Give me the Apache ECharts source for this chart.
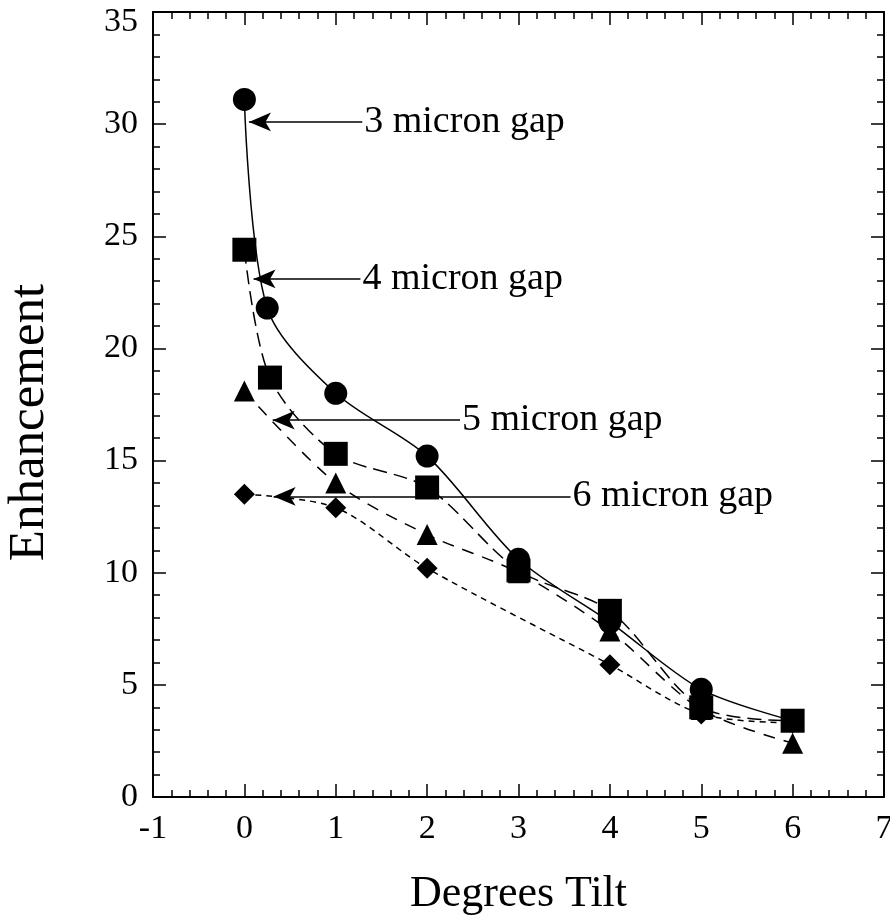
<!DOCTYPE html>
<html>
<head>
<meta charset="utf-8">
<script src="https://cdn.jsdelivr.net/npm/echarts@6/dist/echarts.min.js"></script>
<style>
  html, body { margin: 0; padding: 0; background: #fff; }
  #chart { width: 890px; height: 919px; }
</style>
</head>
<body>
<div id="chart"></div>
<script>
// 数据
var gap3X = [0, 0.25, 1, 2, 3, 4, 5, 6];
var gap3Y = [31.1, 21.8, 18.0, 15.2, 10.6, 7.8, 4.8, 3.4];
var gap4X = [0, 0.28, 1, 2, 3, 4, 5, 6];
var gap4Y = [24.4, 18.7, 15.3, 13.8, 10.1, 8.3, 4.0, 3.4];
var gap5X = [0, 1, 2, 3, 4, 5, 6];
var gap5Y = [18.1, 14.0, 11.7, 10.0, 7.4, 3.9, 2.4];
var gap6X = [0, 1, 2, 4, 5, 6];
var gap6Y = [13.5, 12.9, 10.2, 5.9, 3.7, 3.3];

// annotation arrows: label, arrow tip x, tail x, y
var noteText = ['3 micron gap', '4 micron gap', '5 micron gap', '6 micron gap'];
var noteTipX = [0.05, 0.1, 0.31, 0.32];
var noteTailX = [1.29, 1.27, 2.36, 3.57];
var noteY = [30.1, 23.1, 16.8, 13.4];

var FONT = '"Liberation Serif", "Times New Roman", serif';

function pairs(xs, ys) {
  return xs.map(function (x, i) { return [x, ys[i]]; });
}

const myChart = echarts.init(document.getElementById('chart'));

const notes = noteText.map(function (t, i) {
  return [
    { name: t, coord: [noteTipX[i], noteY[i]] },
    { coord: [noteTailX[i], noteY[i]] }
  ];
});

function axisCommon(show) {
  return {
    axisLine: { show: true, onZero: false, lineStyle: { color: '#000', width: 2 } },
    axisTick: { show: true, inside: true, length: 13, lineStyle: { color: '#000', width: 1.5 } },
    minorTick: { show: true, splitNumber: 5, length: 7, lineStyle: { color: '#000', width: 1.5 } },
    splitLine: { show: false },
    axisLabel: {
      show: show, color: '#000', fontSize: 34, fontFamily: FONT, margin: 15
    }
  };
}

var xBottom = Object.assign(axisCommon(true), {
  type: 'value', min: -1, max: 7, interval: 1, position: 'bottom',
  name: 'Degrees Tilt', nameLocation: 'middle', nameGap: 75,
  nameTextStyle: { color: '#000', fontSize: 44, fontFamily: FONT }
});
var xTop = Object.assign(axisCommon(false), {
  type: 'value', min: -1, max: 7, interval: 1, position: 'top'
});
var yLeft = Object.assign(axisCommon(true), {
  type: 'value', min: 0, max: 35, interval: 5, position: 'left',
  name: 'Enhancement', nameLocation: 'middle', nameGap: 98,
  nameTextStyle: { color: '#000', fontSize: 51, fontFamily: FONT, padding: [0, 36, 0, 0] }
});
// the top label sits a little below its tick in the original
yLeft.axisLabel.formatter = function (v) {
  return v === 35 ? '{top|35}' : String(v);
};
yLeft.axisLabel.rich = {
  top: { fontSize: 34, fontFamily: FONT, color: '#000', padding: [20, 0, 0, 0] }
};
var yRight = Object.assign(axisCommon(false), {
  type: 'value', min: 0, max: 35, interval: 5, position: 'right'
});

const option = {
  animation: false,
  backgroundColor: '#fff',
  grid: { left: 153, right: 6, top: 12, bottom: 122, containLabel: false, outerBoundsMode: 'none' },
  xAxis: [xBottom, xTop],
  yAxis: [yLeft, yRight],
  series: [
    {
      type: 'line', name: '3 micron', data: pairs(gap3X, gap3Y),
      smooth: 0.3, symbol: 'circle', symbolSize: 23,
      itemStyle: { color: '#000' },
      lineStyle: { color: '#000', width: 1.5, type: 'solid' },
      markLine: {
        silent: true,
        symbol: ['arrow', 'none'],
        symbolSize: [14, 22],
        lineStyle: { color: '#000', width: 1.5, type: 'solid' },
        label: {
          show: true, position: 'end', formatter: '{b}', distance: 2,
          color: '#000', fontSize: 38, fontFamily: FONT
        },
        data: notes
      }
    },
    {
      type: 'line', name: '5 micron', data: pairs(gap5X, gap5Y),
      smooth: 0.3, symbol: 'triangle', symbolSize: 21,
      itemStyle: { color: '#000' },
      lineStyle: { color: '#000', width: 1.5, type: [12, 9] }
    },
    {
      type: 'line', name: '6 micron', data: pairs(gap6X, gap6Y),
      smooth: 0.3, symbol: 'diamond', symbolSize: 21,
      itemStyle: { color: '#000' },
      lineStyle: { color: '#000', width: 1.5, type: [6, 5] }
    },
    {
      type: 'line', name: '4 micron', data: pairs(gap4X, gap4Y),
      smooth: 0.3, symbol: 'rect', symbolSize: 24,
      itemStyle: { color: '#000' },
      lineStyle: { color: '#000', width: 1.5, type: [14, 7] }
    }
  ]
};
myChart.setOption(option);
</script>
</body>
</html>
